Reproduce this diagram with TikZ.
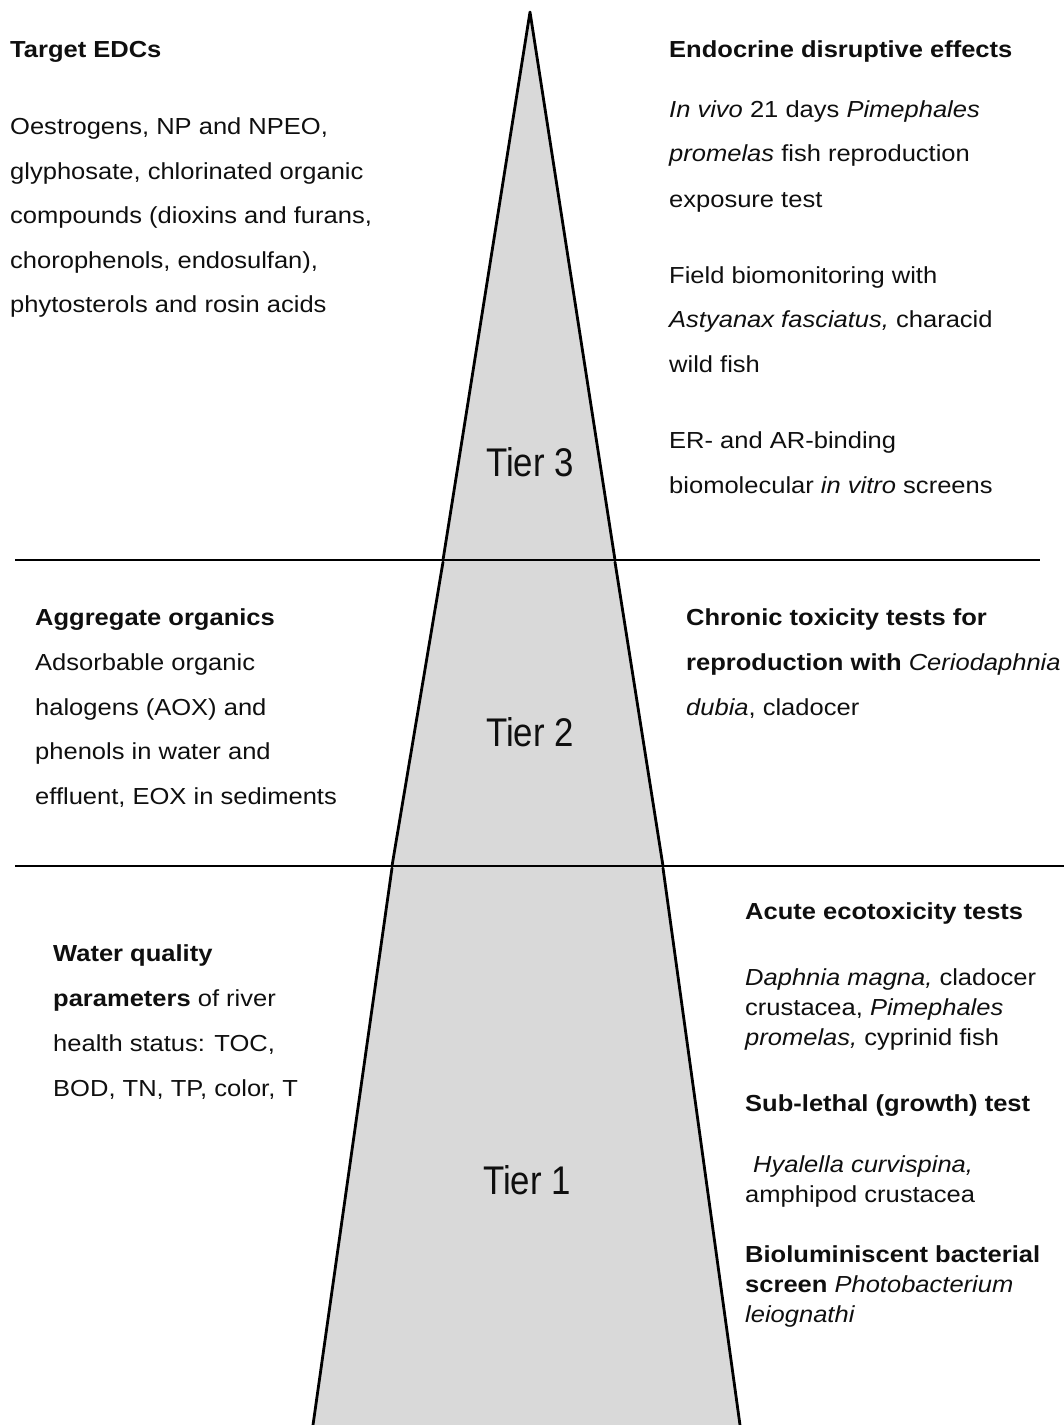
\documentclass[tikz,border=0pt]{standalone}
\usepackage{fontspec}
\setmainfont{Liberation Sans}
\newfontfamily\bodyfont[FakeStretch=1.1]{Liberation Sans}
\newfontfamily\tierfont[FakeStretch=0.87]{Liberation Sans}
\definecolor{tiergray}{RGB}{217,217,217}
\definecolor{inkblack}{RGB}{15,15,15}
\begin{document}
\begin{tikzpicture}[x=1pt,y=-1pt,
  txt/.style={anchor=base west, inner sep=0pt, text=inkblack,
    font=\bodyfont\fontsize{23.2}{27}\selectfont},
  tierlabel/.style={inner sep=0pt, text=inkblack,
    font=\tierfont\fontsize{40}{46}\selectfont},
  edge/.style={line width=2.8pt, line cap=round, line join=round},
  divider/.style={line width=2.2pt}]
\useasboundingbox (0,0) rectangle (1064,1425);

% pyramid corners
\coordinate (apex) at (530,12);
\coordinate (a3l) at (443,560);  \coordinate (a3r) at (615,560);
\coordinate (b2l) at (443,562);  \coordinate (b2r) at (615,562);
\coordinate (a2l) at (392,866);  \coordinate (a2r) at (663,866);
\coordinate (b1l) at (392,868);  \coordinate (b1r) at (663,868);
\coordinate (a1l) at (313,1425); \coordinate (a1r) at (740,1425);

% tier fills
\fill[tiergray] (apex) -- (a3l) -- (a3r) -- cycle;
\fill[tiergray] ([yshift=3pt]b2l) -- (a2l) -- (a2r) -- ([yshift=3pt]b2r) -- cycle;
\fill[tiergray] ([yshift=3pt]b1l) -- (a1l) -- (a1r) -- ([yshift=3pt]b1r) -- cycle;

% tier side edges
\draw[edge] (a3l) -- (apex) -- (a3r);
\draw[edge] (b2l) -- (a2l);
\draw[edge] (b2r) -- (a2r);
\draw[edge] (b1l) -- (a1l);
\draw[edge] (b1r) -- (a1r);

% horizontal dividers
\coordinate (d1w) at (15,560);  \coordinate (d1e) at (1040,560);
\coordinate (d2w) at (15,866);  \coordinate (d2e) at (1064,866);
\draw[divider] (d1w) -- (d1e);
\draw[divider] (d2w) -- (d2e);

% tier labels
\node[tierlabel] (tier3) at (530,462) {Tier 3};
\node[tierlabel] (tier2) at (530,732) {Tier 2};
\node[tierlabel] (tier1) at (527,1180) {Tier 1};

% tier 3, left
\node[txt] (edc0) at (10,57)  {\textbf{Target EDCs}};
\node[txt] (edc1) at (10,134) {Oestrogens, NP and NPEO,};
\node[txt] (edc2) at (10,179) {glyphosate, chlorinated organic};
\node[txt] (edc3) at (10,223) {compounds (dioxins and furans,};
\node[txt] (edc4) at (10,268) {chorophenols, endosulfan),};
\node[txt] (edc5) at (10,312) {phytosterols and rosin acids};

% tier 3, right
\node[txt] (eff0) at (669,57)  {\textbf{Endocrine disruptive effects}};
\node[txt] (eff1) at (669,117) {\textit{In vivo} 21 days \textit{Pimephales}};
\node[txt] (eff2) at (669,161) {\textit{promelas} fish reproduction};
\node[txt] (eff3) at (669,207) {exposure test};
\node[txt] (eff4) at (669,283) {Field biomonitoring with};
\node[txt] (eff5) at (669,327) {\textit{Astyanax fasciatus,} characid};
\node[txt] (eff6) at (669,372) {wild fish};
\node[txt] (eff7) at (669,448) {ER- and AR-binding};
\node[txt] (eff8) at (669,493) {biomolecular \textit{in vitro} screens};

% tier 2, left
\node[txt] (agg0) at (35,625) {\textbf{Aggregate organics}};
\node[txt] (agg1) at (35,670) {Adsorbable organic};
\node[txt] (agg2) at (35,715) {halogens (AOX) and};
\node[txt] (agg3) at (35,759) {phenols in water and};
\node[txt] (agg4) at (35,804) {effluent, EOX in sediments};

% tier 2, right
\node[txt] (chr0) at (686,625) {\textbf{Chronic toxicity tests for}};
\node[txt] (chr1) at (686,670) {\textbf{reproduction with} \textit{Ceriodaphnia}};
\node[txt] (chr2) at (686,715) {\textit{dubia}, cladocer};

% tier 1, left
\node[txt] (wq0) at (53,961)  {\textbf{Water quality}};
\node[txt] (wq1) at (53,1006) {\textbf{parameters} of river};
\node[txt] (wq2) at (53,1051) {health status: TOC,};
\node[txt] (wq3) at (53,1096) {BOD, TN, TP, color, T};

% tier 1, right
\node[txt] (ac0) at (745,919)  {\textbf{Acute ecotoxicity tests}};
\node[txt] (ac1) at (745,985)  {\textit{Daphnia magna,} cladocer};
\node[txt] (ac2) at (745,1015) {crustacea, \textit{Pimephales}};
\node[txt] (ac3) at (745,1045) {\textit{promelas,} cyprinid fish};
\node[txt] (sl0) at (745,1111) {\textbf{Sub-lethal (growth) test}};
\node[txt] (sl1) at (753,1172) {\textit{Hyalella curvispina,}};
\node[txt] (sl2) at (745,1202) {amphipod crustacea};
\node[txt] (bl0) at (745,1262) {\textbf{Bioluminiscent bacterial}};
\node[txt] (bl1) at (745,1292) {\textbf{screen} \textit{Photobacterium}};
\node[txt] (bl2) at (745,1322) {\textit{leiognathi}};
\end{tikzpicture}
\end{document}
